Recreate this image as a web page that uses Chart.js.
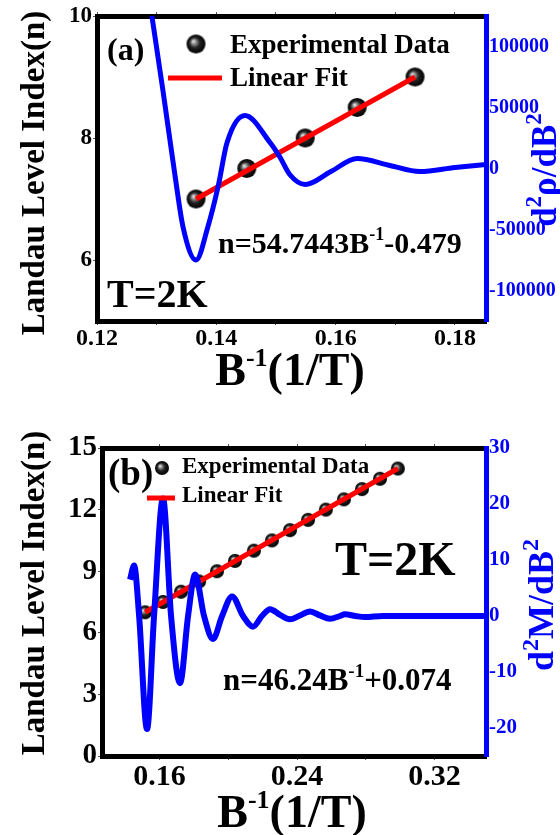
<!DOCTYPE html>
<html>
<head>
<meta charset="utf-8">
<script src="https://cdn.jsdelivr.net/npm/chart.js@4.4.1/dist/chart.umd.min.js"></script>
<style>
  html, body { margin: 0; padding: 0; background: #fff; }
  body { width: 560px; height: 835px; position: relative; overflow: hidden; }
  canvas { position: absolute; left: 0; }
  #chartA { top: 0; }
  #chartB { top: 410px; }
</style>
</head>
<body>
<canvas id="chartA" width="560" height="410"></canvas>
<canvas id="chartB" width="560" height="425"></canvas>
<script>
// ---- panel (a) ----
const invBA = [0.1366, 0.1451, 0.1549, 0.1636, 0.1733];
const levelA = [7, 7.5, 8, 8.5, 9];
const fitXA = [0.1366, 0.1733];
const fitYA = [7, 9];
const curveXA = [0.1280, 0.1292, 0.1311, 0.1331, 0.1344, 0.1366, 0.1386, 0.1403, 0.1418, 0.1448,
                 0.1490, 0.1507, 0.1523, 0.1549, 0.1592, 0.1636, 0.1691, 0.1741, 0.1800, 0.1852];
const curveYA = [165000, 125000, 62300, -6600, -47500, -75000, -47500, -14800, 21300, 43500,
                 21300, 9000, -4900, -13100, -2500, 8200, 2500, -2500, 800, 3300];
const xTicksA = [0.12, 0.13, 0.14, 0.15, 0.16, 0.17, 0.18];
const xLabelsA = [0.12, 0.14, 0.16, 0.18];
const yTicksA = [6, 8, 10];
const y1TicksA = [-100000, -50000, 0, 50000, 100000];

// ---- panel (b) ----
const invBB = [0.1516, 0.1620, 0.1725, 0.1830, 0.1934, 0.2039, 0.2149, 0.2254,
               0.2359, 0.2464, 0.2568, 0.2673, 0.2778, 0.2883, 0.2987];
const levelB = [7, 7.5, 8, 8.5, 9, 9.5, 10, 10.5, 11, 11.5, 12, 12.5, 13, 13.5, 14];
const fitXB = [0.1516, 0.2987];
const fitYB = [7, 14];
const curveXB = [0.1428, 0.1452, 0.1481, 0.1527, 0.1568, 0.1620, 0.1667, 0.1719, 0.1766, 0.1807,
                 0.1859, 0.1911, 0.1964, 0.2022, 0.2086, 0.2144, 0.2196, 0.2243, 0.2301, 0.2359,
                 0.2417, 0.2476, 0.2534, 0.2592, 0.2650, 0.2679, 0.2740, 0.2795, 0.2900, 0.3100,
                 0.3300, 0.3500];
const curveYB = [6.5, 9.0, 0, -20.2, 0, 21, 0, -12, 0, 7.4,
                 0, -4.1, 0, 3.5, 0, -1.9, 0, 1.2, 0.2, -0.6,
                 0.1, 0.8, 0.1, -0.5, 0, 0.3, 0, -0.2, 0, 0,
                 0, 0];
const xTicksB = [0.16, 0.20, 0.24, 0.28, 0.32];
const xLabelsB = [0.16, 0.24, 0.32];
const yTicksB = [0, 3, 6, 9, 12, 15];
const y1TicksB = [-20, -10, 0, 10, 20, 30];

const SERIF = '"Liberation Serif", "Times New Roman", serif';
const BLUE = '#0000ff';
const RED = '#ff0000';

function sphere(r) {
  const c = document.createElement('canvas');
  const s = Math.ceil(2 * r + 2);
  c.width = s; c.height = s;
  const g = c.getContext('2d');
  const cx = s / 2, cy = s / 2;
  const grad = g.createRadialGradient(cx - r * 0.3, cy - r * 0.3, 0, cx, cy, r);
  grad.addColorStop(0, '#f4f4f4');
  grad.addColorStop(0.22, '#9a9a9a');
  grad.addColorStop(0.55, '#222');
  grad.addColorStop(1, '#000');
  g.fillStyle = grad;
  g.beginPath(); g.arc(cx, cy, r, 0, Math.PI * 2); g.fill();
  return c;
}

function pts(xs, ys) { return xs.map((x, i) => ({ x: x, y: ys[i] })); }
function fixSize(w, h) {
  return (scale) => {
    if (w != null) scale.width = w;
    if (h != null) scale.height = h;
  };
}
function useTicks(values) {
  return (scale) => { scale.ticks = values.map(v => ({ value: v })); };
}

// text with superscripts: parts = [text, size, rise]
function rich(ctx, parts, x, y, opts = {}) {
  ctx.save();
  ctx.translate(x, y);
  if (opts.rotate) ctx.rotate(opts.rotate);
  const widths = parts.map(([t, s]) => { ctx.font = `bold ${s}px ${SERIF}`; return ctx.measureText(t).width; });
  const total = widths.reduce((a, b) => a + b, 0);
  let cx = opts.center ? -total / 2 : 0;
  ctx.fillStyle = opts.color || '#000';
  ctx.textBaseline = 'alphabetic';
  ctx.textAlign = 'left';
  parts.forEach(([t, s, rise = 0], i) => {
    ctx.font = `bold ${s}px ${SERIF}`;
    ctx.fillText(t, cx, -rise);
    cx += widths[i];
  });
  ctx.restore();
}

function legendMarks(ctx, img, sx, sy, lx0, lx1, ly) {
  ctx.drawImage(img, sx - img.width / 2, sy - img.height / 2);
  ctx.save();
  ctx.strokeStyle = RED;
  ctx.lineWidth = 5;
  ctx.beginPath(); ctx.moveTo(lx0, ly); ctx.lineTo(lx1, ly); ctx.stroke();
  ctx.restore();
}

function makePanel(canvas, cfg) {
  const tickFont = (size) => ({ family: SERIF, size: size, weight: 'bold' });
  const gridOpts = (color) => ({ display: true, drawOnChartArea: false, drawTicks: true, tickLength: 4, color: color, lineWidth: 1 });
  return new Chart(canvas, {
    type: 'line',
    data: {
      datasets: [
        {
          data: pts(cfg.curveX, cfg.curveY), xAxisID: 'x', yAxisID: 'y1',
          borderColor: BLUE, borderWidth: cfg.curveWidth, pointRadius: 0,
          cubicInterpolationMode: 'monotone', fill: false, order: 0
        },
        {
          data: pts(cfg.fitX, cfg.fitY), xAxisID: 'x', yAxisID: 'y',
          borderColor: RED, borderWidth: 5, pointRadius: 0, fill: false, order: 1
        },
        {
          data: pts(cfg.invB, cfg.level), xAxisID: 'x', yAxisID: 'y',
          showLine: false, pointStyle: cfg.ball, pointRadius: cfg.ballR, order: 2
        }
      ]
    },
    options: {
      responsive: false,
      animation: false,
      events: [],
      layout: { padding: 0 },
      plugins: { legend: { display: false }, tooltip: { enabled: false } },
      scales: {
        x: {
          type: 'linear', position: 'bottom', min: cfg.xMin, max: cfg.xMax,
          afterBuildTicks: useTicks(cfg.xTicks), afterFit: fixSize(null, cfg.bottomH),
          border: { display: true, color: '#000', width: 5 },
          grid: gridOpts('#555'),
          ticks: {
            color: '#000', font: tickFont(cfg.xFont), padding: cfg.xPad, maxRotation: 0, autoSkip: false,
            callback: (v) => cfg.xLabels.includes(v) ? v.toFixed(2) : ''
          }
        },
        x2: {
          type: 'linear', position: 'top', min: cfg.xMin, max: cfg.xMax,
          afterBuildTicks: useTicks(cfg.xTicks), afterFit: fixSize(null, cfg.topH),
          border: { display: true, color: '#000', width: 5 },
          grid: gridOpts('#555'),
          ticks: { display: false }
        },
        y: {
          type: 'linear', position: 'left', min: cfg.yMin, max: cfg.yMax,
          afterBuildTicks: useTicks(cfg.yTicks), afterFit: fixSize(cfg.leftW, null),
          border: { display: true, color: '#000', width: 5 },
          grid: gridOpts('#555'),
          ticks: { color: '#000', font: tickFont(cfg.yFont), padding: 1, callback: (v) => String(v) }
        },
        y1: {
          type: 'linear', position: 'right', min: cfg.y1Min, max: cfg.y1Max,
          afterBuildTicks: useTicks(cfg.y1Ticks), afterFit: fixSize(cfg.rightW, null),
          border: { display: true, color: BLUE, width: 5 },
          grid: Object.assign(gridOpts(BLUE), { tickLength: 3 }),
          ticks: { color: BLUE, font: tickFont(cfg.y1Font), padding: 0, callback: (v) => String(v) }
        }
      }
    },
    plugins: [{ id: 'notes', afterDraw: (chart) => cfg.notes(chart.ctx) }]
  });
}

const ballA = sphere(9.5);
const ballB = sphere(7);

makePanel(document.getElementById('chartA'), {
  curveX: curveXA, curveY: curveYA, fitX: fitXA, fitY: fitYA, invB: invBA, level: levelA,
  ball: ballA, ballR: 9.5, curveWidth: 5,
  xMin: 0.12, xMax: 0.1852, yMin: 5, yMax: 10, y1Min: -125000, y1Max: 125000,
  xTicks: xTicksA, xLabels: xLabelsA, yTicks: yTicksA, y1Ticks: y1TicksA,
  xFont: 24, yFont: 23, y1Font: 20, xPad: -1,
  leftW: 97, rightW: 74, topH: 16, bottomH: 89,
  notes: (ctx) => {
    rich(ctx, [['(a)', 32]], 107, 60);
    legendMarks(ctx, ballA, 196, 44, 168, 222, 78);
    rich(ctx, [['Experimental Data', 27]], 230, 53);
    rich(ctx, [['Linear Fit', 27]], 230, 86);
    rich(ctx, [['n=54.7443B', 30], ['-1', 18, 13], ['-0.479', 30]], 218, 253);
    rich(ctx, [['T=2K', 40]], 107, 307);
    rich(ctx, [['B', 46], ['-1', 26, 19], ['(1/T)', 46]], 290, 385, { center: true });
    rich(ctx, [['Landau Level Index(n)', 33]], 44, 173, { center: true, rotate: -Math.PI / 2 });
    rich(ctx, [['d', 35], ['2', 23, 15], ['\u03c1/dB', 35], ['2', 23, 15]], 556, 170,
      { center: true, rotate: -Math.PI / 2, color: BLUE });
  }
});

makePanel(document.getElementById('chartB'), {
  curveX: curveXB, curveY: curveYB, fitX: fitXB, fitY: fitYB, invB: invBB, level: levelB,
  ball: ballB, ballR: 7, curveWidth: 6,
  xMin: 0.1265, xMax: 0.35, yMin: 0, yMax: 15, y1Min: -25, y1Max: 30,
  xTicks: xTicksB, xLabels: xLabelsB, yTicks: yTicksB, y1Ticks: y1TicksB,
  xFont: 30, yFont: 29, y1Font: 21, xPad: -1,
  leftW: 102, rightW: 74, topH: 38, bottomH: 79,
  notes: (ctx) => {
    rich(ctx, [['(b)', 37]], 108, 75);
    legendMarks(ctx, ballB, 162, 58, 147, 175, 88);
    rich(ctx, [['Experimental Data', 23]], 182, 63);
    rich(ctx, [['Linear Fit', 23]], 182, 92);
    rich(ctx, [['T=2K', 48]], 335, 165);
    rich(ctx, [['n=46.24B', 31], ['-1', 19, 13], ['+0.074', 31]], 223, 280);
    rich(ctx, [['B', 46], ['-1', 26, 19], ['(1/T)', 46]], 292, 417, { center: true });
    rich(ctx, [['Landau Level Index(n)', 33]], 44, 183, { center: true, rotate: -Math.PI / 2 });
    rich(ctx, [['d', 36], ['2', 24, 15], ['M/dB', 36], ['2', 24, 15]], 553, 195,
      { center: true, rotate: -Math.PI / 2, color: BLUE });
  }
});
</script>
</body>
</html>
